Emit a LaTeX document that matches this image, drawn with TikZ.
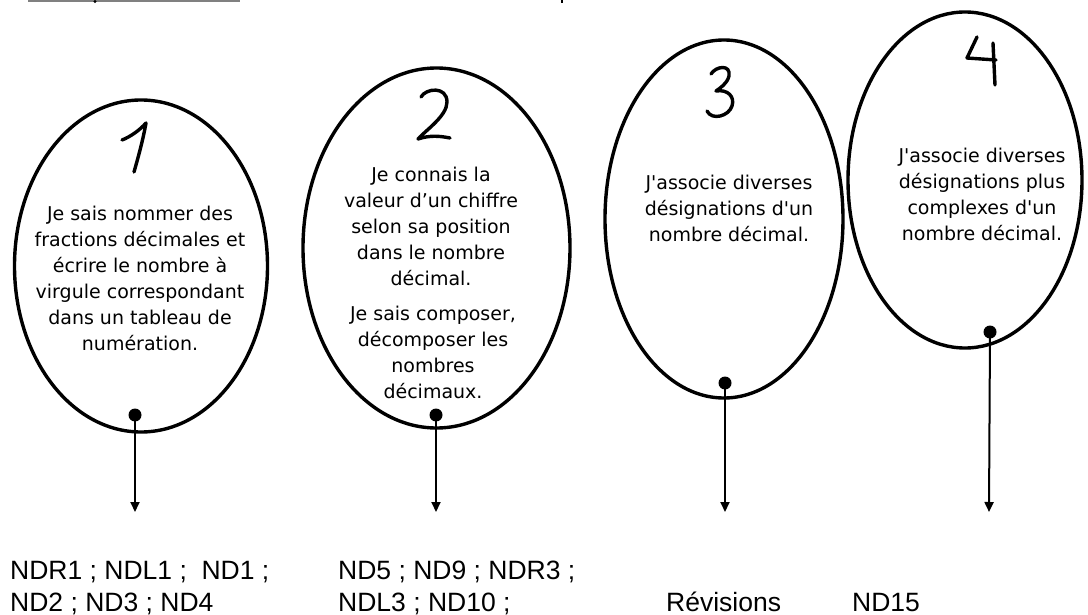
\documentclass[tikz,border=0pt]{standalone}
\usepackage{fontspec}
\newfontfamily\verd{DejaVu Sans}
\newfontfamily\arialf{Liberation Sans}
\usetikzlibrary{shapes.geometric,arrows.meta}
\begin{document}
\begin{tikzpicture}[x=1pt,y=-1pt,
  oval/.style={draw, ellipse, line width=3.4pt, inner sep=0pt},
  dotn/.style={circle, fill=black, inner sep=0pt, minimum size=13pt},
  conn/.style={line width=2pt, -{Triangle[width=9pt,length=10pt]}},
  digit/.style={line width=3.4pt, line cap=round, line join=round},
  lbl/.style={font=\verd\fontsize{19}{26}\selectfont, align=center, inner sep=0pt},
  refl/.style={font=\arialf\fontsize{26.5}{32}\selectfont, anchor=base west, inner sep=0pt}]
\useasboundingbox (0,0) rectangle (1088,615);
\fill[white] (0,0) rectangle (1088,615);
% cut-off heading remnants
\draw[gray, line width=1.5pt] (28,1) -- (240,1);
\fill[black] (95,1.5) circle (1.6);
\draw[black, line width=1.5pt] (562,0) -- (562,3);
% ellipses
\node[oval, minimum width=253pt, minimum height=332pt] (e1) at (141,266) {};
\node[oval, minimum width=267pt, minimum height=360pt] (e2) at (436.5,248) {};
\node[oval, minimum width=238pt, minimum height=358pt] (e3) at (724,219) {};
\node[oval, minimum width=234pt, minimum height=336pt] (e4) at (965,180) {};
% digits
\draw[digit] (122,140) .. controls (130,137) and (140,130) .. (146,123) .. controls (143,140) and (138,158) .. (134,172);
\draw[digit] (421,97) .. controls (426,88) and (447,86) .. (447,102) .. controls (447,116) and (426,130) .. (418,139) .. controls (430,135) and (440,136) .. (450,138);
\draw[digit] (711,74) .. controls (716,66) and (731,64) .. (729,76) .. controls (727,84) and (720,88) .. (716,91) .. controls (728,89) and (735,97) .. (732,106) .. controls (729,116) and (712,121) .. (707,111);
\draw[digit] (977,37) -- (967,58) -- (996,60);
\draw[digit] (993,43) -- (995,85);
% texts in ellipses
\node[lbl] (x1) at (140,278) {Je sais nommer des\\fractions décimales et\\écrire le nombre à\\virgule correspondant\\dans un tableau de\\numération.};
\node[lbl] (x2a) at (431,226) {Je connais la\\valeur d’un chiffre\\selon sa position\\dans le nombre\\décimal.};
\node[lbl] (x2b) at (433,352) {Je sais composer,\\décomposer les\\nombres\\décimaux.};
\node[lbl] (x3) at (729,208) {J'associe diverses\\désignations d'un\\nombre décimal.};
\node[lbl] (x4) at (982,194) {J'associe diverses\\désignations plus\\complexes d'un\\nombre décimal.};
% dots and arrows
\node[dotn] (d1) at (135,415) {};
\node[dotn] (d2) at (436,415) {};
\node[dotn] (d3) at (725,383) {};
\node[dotn] (d4) at (990,332) {};
\coordinate (t1) at (135,512);
\coordinate (t2) at (436,512);
\coordinate (t3) at (725,512);
\coordinate (t4) at (989,512);
\draw[conn] (d1.center) -- (t1);
\draw[conn] (d2.center) -- (t2);
\draw[conn] (d3.center) -- (t3);
\draw[conn] (d4.center) -- (t4);
% bottom labels
\node[refl] (r1a) at (10,579) {NDR1 ; NDL1 ;\ \ ND1 ;};
\node[refl] (r1b) at (10,611) {ND2 ; ND3 ; ND4};
\node[refl] (r2a) at (338,579) {ND5 ; ND9 ; NDR3 ;};
\node[refl] (r2b) at (338,611) {NDL3 ; ND10 ;};
\node[refl] (r3) at (666,611) {Révisions};
\node[refl] (r4) at (852,611) {ND15};
\end{tikzpicture}
\end{document}
